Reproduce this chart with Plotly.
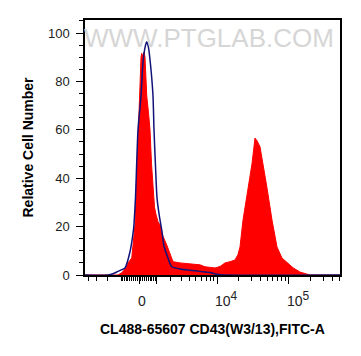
import numpy as np
import plotly.graph_objects as go

# ---------------- data (display channel units on a logicle-like scale, 0-1020) -------------
red_channel = [0, 132, 148, 164, 172, 187, 200, 204, 211, 217, 220, 224, 227, 230, 232, 236, 240, 244,
               247, 254, 260, 266, 273, 278, 284, 292, 300, 312, 327, 340, 352, 380, 420, 460, 480,
               500, 520, 540, 560, 580, 600, 612, 620, 632, 652, 668, 680, 688, 700, 712, 728, 748,
               768, 788, 808, 832, 860, 900, 1020]
red_count = [0, 0, 1, 3, 5, 7, 20.7, 32, 60, 74, 85, 90, 91.6, 90.5, 91, 92, 90, 82,
             74, 67, 60, 46, 32, 28, 25, 22, 20.7, 16, 12.4, 8.3, 5.5, 5, 4.5, 4.2, 3.4,
             3.2, 2.9, 3.5, 5, 5.5, 6.2, 8.5, 11.6, 22.7, 36, 46, 56.6, 55.5, 53, 46, 36, 22.7,
             11.6, 7, 5, 3, 1.2, 0, 0]

blue_channel = [0, 92, 112, 132, 148, 160, 180, 193, 196, 202, 212, 224, 232, 240, 247, 254, 262,
                272, 276, 282, 288, 298, 307, 316, 332, 347, 380, 420, 460, 500, 532, 560, 1020]
blue_count = [0, 0, 0.5, 1.5, 2.2, 2.9, 9.6, 17.9, 21, 32, 60, 74, 88, 94, 96.4, 94, 87,
              74, 60, 45, 32, 24, 18.6, 12, 7, 3.4, 2.5, 2, 1.5, 1, 0.2, 0, 0]

major_values = [0, 1e3, 1e4, 1e5]
label_values = [0, 1e4, 1e5]
label_texts = ["0", "10<sup><span style='font-size:12px'>4</span></sup>",
               "10<sup><span style='font-size:12px'>5</span></sup>"]
minor_values = ([-4000, -3000, -2000, -1000] + list(range(-900, 0, 100)) + list(range(100, 1000, 100))
                + list(range(2000, 10000, 1000)) + list(range(20000, 100000, 10000))
                + [200000, 300000, 400000, 500000])

x_title = "CL488-65607 CD43(W3/13),FITC-A"
y_title = "Relative Cell Number"
watermark = "WWW.PTGLAB.COM"


def to_channel(v):
    """logicle-like (arcsinh) display transform, intensity -> display channel"""
    return 216 + 125.2 * np.arcsinh(np.asarray(v, dtype=float) / 1666.0)


fig = go.Figure()
fig.add_trace(go.Scatter(x=red_channel, y=red_count, mode="lines", fill="tozeroy",
                         line=dict(color="#ff0000", width=1), fillcolor="#ff0000",
                         hoverinfo="skip", showlegend=False))
fig.add_trace(go.Scatter(x=blue_channel, y=blue_count, mode="lines",
                         line=dict(color="#12127a", width=1.5, shape="spline", smoothing=0.6),
                         hoverinfo="skip", showlegend=False))

FONT = "Liberation Sans, Arial, sans-serif"
axis_font = dict(family=FONT, size=13, color="#222")
title_font = dict(family=FONT, size=14, color="#000")

annotations = [dict(text=watermark, xref="paper", yref="paper", x=0.486, y=0.995,
                    xanchor="center", yanchor="top", showarrow=False,
                    font=dict(family=FONT, size=26, color="#d6d6d6"))]
for v, t in zip(label_values, label_texts):
    anchor_left = v != 0
    annotations.append(dict(text=t, xref="x", yref="paper", x=float(to_channel(v)), y=0,
                            xanchor="left" if anchor_left else "center", yanchor="top",
                            xshift=-4 if anchor_left else 3, yshift=-12 if anchor_left else -16,
                            showarrow=False, font=dict(family=FONT, size=14, color="#222")))
annotations.append(dict(text="<b>" + x_title + "</b>", xref="paper", yref="paper", x=0.5, y=0,
                        xanchor="center", yanchor="middle", yshift=-54, showarrow=False,
                        font=title_font))
annotations.append(dict(text="<b>" + y_title + "</b>", xref="paper", yref="paper", x=0, y=0.5,
                        xanchor="center", yanchor="middle", xshift=-58, textangle=-90,
                        showarrow=False, font=title_font))

# the page body keeps an 8px margin, so the figure is 8px smaller than the window
fig.update_layout(
    width=353, height=348,
    margin=dict(l=77, r=21, t=12, b=81),
    paper_bgcolor="white", plot_bgcolor="white",
    xaxis=dict(range=[0, 1020], tickmode="array",
               tickvals=list(to_channel(major_values)), showticklabels=False,
               ticks="outside", ticklen=7, tickwidth=1.2, tickcolor="black",
               minor=dict(tickmode="array", tickvals=list(to_channel(minor_values)),
                          ticks="outside", ticklen=4, tickwidth=1, tickcolor="black"),
               showline=True, linecolor="black", linewidth=1.5, mirror=True,
               showgrid=False, zeroline=False, automargin=False),
    yaxis=dict(range=[0, 105.4], tickmode="linear", tick0=0, dtick=20,
               ticks="outside", ticklen=7, tickwidth=1.2, tickcolor="black",
               minor=dict(dtick=5, ticks="outside", ticklen=4, tickwidth=1, tickcolor="black"),
               showline=True, linecolor="black", linewidth=1.5, mirror=True,
               showgrid=False, zeroline=False, tickfont=axis_font, automargin=False,
               ticklabelstandoff=4),
    annotations=annotations,
)

fig.write_html("out.html")
